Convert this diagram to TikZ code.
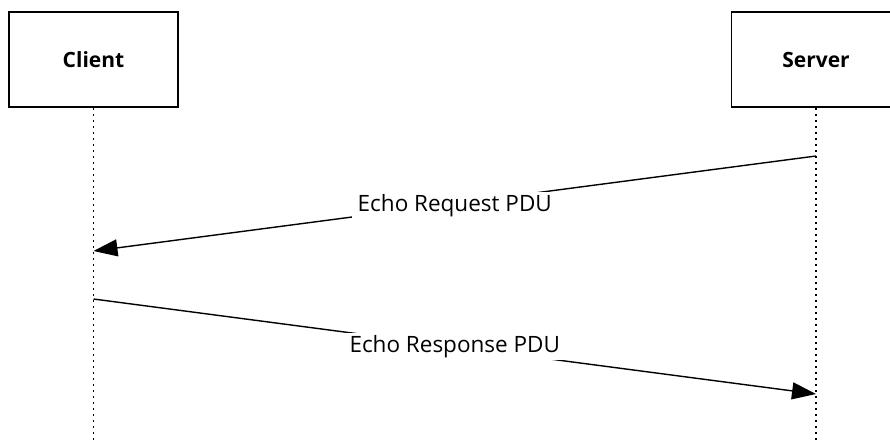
\documentclass[tikz,border=0pt]{standalone}
\usepackage{fontspec}
\setmainfont{Open Sans}
\usetikzlibrary{calc}
\usetikzlibrary{arrows.meta}

\tikzset{
    acteur/.style={draw, line width=1.6pt, minimum width=169pt, minimum height=95pt,
        inner sep=0pt, font=\fontsize{21}{25}\selectfont\bfseries},
    vie/.style={line width=1.6pt, dash pattern=on 2.5pt off 3.5pt},
    message/.style={line width=1.4pt, -{Triangle[length=24pt,width=17pt]}},
    etiquette/.style={fill=white, inner xsep=6pt, inner ysep=2pt,
        font=\fontsize{22.5}{27}\selectfont}
}

\begin{document}
\begin{tikzpicture}[x=1pt,y=-1pt]

\useasboundingbox (0,0) rectangle (890,440);

%acteurs
\node[acteur] (client) at (93.5,59.5) {Client};
\node[acteur] (server) at (816,59.5) {Server};

%lignes de vie
\coordinate (clientFin) at (client.south |- 0,440);
\coordinate (serverFin) at (server.south |- 0,440);
\draw[vie] (client.south) -- (clientFin);
\draw[vie] (server.south) -- (serverFin);

%points des messages
\def \DepartReq {156}
\def \ArriveeReq {251}
\def \DepartRep {299}
\def \ArriveeRep {394}
\coordinate (reqA) at (server.south |- 0,\DepartReq);
\coordinate (reqB) at (client.south |- 0,\ArriveeReq);
\coordinate (repA) at (client.south |- 0,\DepartRep);
\coordinate (repB) at (server.south |- 0,\ArriveeRep);

%messages
\draw[message] (reqA) -- node[etiquette, yshift=-2pt] (req) {Echo Request PDU} (reqB);
\draw[message] (repA) -- node[etiquette] (rep) {Echo Response PDU} (repB);

\end{tikzpicture}
\end{document}
